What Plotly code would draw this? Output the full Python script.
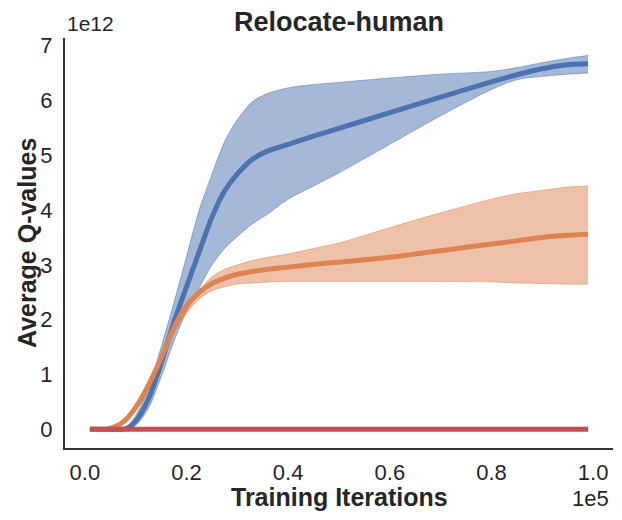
import plotly.graph_objects as go

# iterations (x1e3) and Q-values (x1e12)
iters_k = [1, 4, 6, 8, 10, 12.5, 15, 17.5, 20, 22.5, 25, 27.5, 30, 33, 36, 40, 45, 50, 60, 70, 80, 85, 90, 95, 99]

blue_mean = [0, 0, 0, 0.01, 0.15, 0.55, 1.2, 1.95, 2.6, 3.24, 3.87, 4.35, 4.66, 4.93, 5.08, 5.2, 5.35, 5.49, 5.78, 6.06, 6.34, 6.47, 6.58, 6.65, 6.67]
blue_hi = [0, 0, 0, 0.03, 0.25, 0.75, 1.5, 2.3, 3.15, 4.0, 4.65, 5.25, 5.65, 5.98, 6.13, 6.23, 6.29, 6.33, 6.41, 6.48, 6.53, 6.6, 6.69, 6.77, 6.82]
blue_lo = [0, 0, 0, 0, 0.07, 0.38, 0.95, 1.6, 2.15, 2.58, 3.0, 3.3, 3.52, 3.75, 3.93, 4.2, 4.44, 4.68, 5.2, 5.72, 6.2, 6.38, 6.44, 6.48, 6.5]

orange_mean = [0, 0, 0.05, 0.17, 0.4, 0.8, 1.3, 1.85, 2.25, 2.5, 2.66, 2.76, 2.83, 2.88, 2.92, 2.96, 3.01, 3.05, 3.14, 3.26, 3.38, 3.44, 3.5, 3.54, 3.56]
orange_hi = [0, 0.01, 0.07, 0.2, 0.45, 0.86, 1.37, 1.92, 2.33, 2.55, 2.78, 2.92, 3.0, 3.08, 3.14, 3.2, 3.3, 3.4, 3.68, 3.95, 4.2, 4.3, 4.36, 4.42, 4.44]
orange_lo = [0, 0, 0.03, 0.14, 0.35, 0.74, 1.23, 1.75, 2.12, 2.38, 2.53, 2.6, 2.65, 2.67, 2.69, 2.7, 2.7, 2.7, 2.7, 2.7, 2.69, 2.67, 2.66, 2.65, 2.65]

red_mean = [0] * len(iters_k)
red_hi = [0.01] * len(iters_k)
red_lo = [-0.01] * len(iters_k)

x_ticks = [0, 0.2, 0.4, 0.6, 0.8, 1.0]
y_ticks = [0, 1, 2, 3, 4, 5, 6, 7]

series = [
    (blue_mean, blue_hi, blue_lo, (76, 114, 176)),
    (orange_mean, orange_hi, orange_lo, (221, 132, 82)),
    (red_mean, red_hi, red_lo, (196, 78, 82)),
]

x = [v * 1e3 for v in iters_k]
FONT = "Arial, Liberation Sans, sans-serif"
INK = "#262626"

fig = go.Figure()
for mean, hi, lo, (r, g, b) in series:
    edge = dict(color=f"rgba({r},{g},{b},0.5)", width=1, shape="spline", smoothing=0.8)
    fig.add_trace(go.Scatter(x=x, y=[v * 1e12 for v in lo], mode="lines", line=edge,
                             hoverinfo="skip", showlegend=False))
    fig.add_trace(go.Scatter(x=x, y=[v * 1e12 for v in hi], mode="lines", line=edge,
                             fill="tonexty", fillcolor=f"rgba({r},{g},{b},0.5)",
                             hoverinfo="skip", showlegend=False))
    fig.add_trace(go.Scatter(
        x=x, y=[v * 1e12 for v in mean], mode="lines",
        line=dict(color=f"rgb({r},{g},{b})", width=5, shape="spline", smoothing=0.8),
        showlegend=False))

# page body has an 8px margin, so the figure is 8px smaller than the window
fig.update_layout(
    width=614, height=512,
    margin=dict(l=57, r=9, t=30, b=72),
    plot_bgcolor="white", paper_bgcolor="white",
    font=dict(family=FONT, size=22, color=INK),
    title=dict(text="<b>Relocate-human</b>", x=0.5, xref="paper", y=1 - 14 / 512,
               yref="container", yanchor="middle", font=dict(size=27, color=INK)),
)
fig.update_xaxes(
    range=[-3900, 103900], tickvals=[v * 1e5 for v in x_ticks],
    ticktext=[f"{v:.1f}" for v in x_ticks], showgrid=False, zeroline=False,
    showline=True, linecolor="#333333", linewidth=2, ticks="", ticklabelstandoff=4,
    automargin=False,
)
fig.update_yaxes(
    range=[-0.34e12, 7.14e12], tickvals=[v * 1e12 for v in y_ticks],
    ticktext=[str(v) for v in y_ticks], showgrid=False, zeroline=False,
    showline=True, linecolor="#333333", linewidth=2, ticks="", ticklabelstandoff=6,
    automargin=False,
)
# axis titles and offset texts
fig.add_annotation(text="<b>Training Iterations</b>", xref="paper", yref="paper", x=0.5, y=0,
                   yanchor="middle", yshift=-49, showarrow=False, font=dict(size=25))
fig.add_annotation(text="<b>Average Q-values</b>", xref="paper", yref="paper", x=0, y=0.5,
                   xanchor="center", xshift=-38, textangle=-90, showarrow=False,
                   font=dict(size=25))
fig.add_annotation(text="1e12", xref="paper", yref="paper", x=0, y=1, xanchor="left",
                   yanchor="bottom", showarrow=False, font=dict(size=21), yshift=1)
fig.add_annotation(text="1e5", xref="paper", yref="paper", x=1, y=0, xanchor="right",
                   yanchor="top", showarrow=False, font=dict(size=22), yshift=-36, xshift=-2)

fig.write_html("out.html")
